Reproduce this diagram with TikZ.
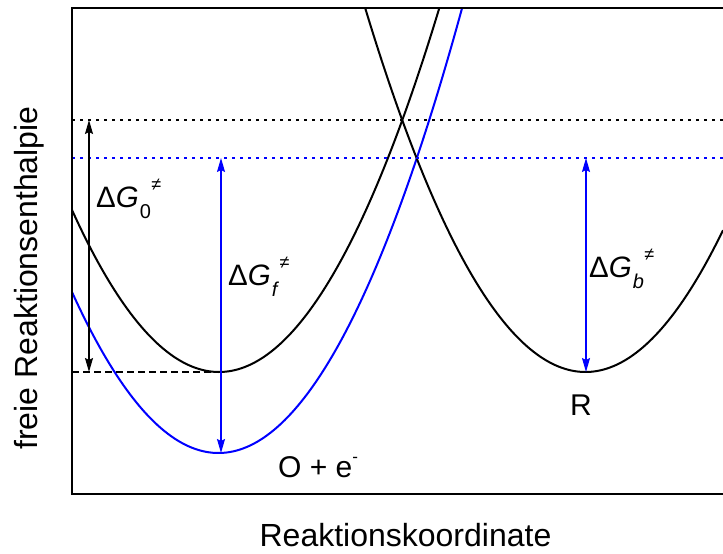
\documentclass[tikz,border=0pt]{standalone}
\usepackage{fontspec}
\setmainfont{Liberation Sans}
\usetikzlibrary{arrows.meta}
\newcommand\dGlab[1]{Δ\textit{G}\kern1pt\raisebox{-0.4em}{\fontsize{20}{20}\selectfont #1}\kern0.5pt\raisebox{0.55em}{\fontsize{18}{18}\selectfont\textit{≠}}}
\begin{document}
\begin{tikzpicture}[x=1pt,y=-1pt,
  curve/.style={line width=2pt},
  frame/.style={line width=2pt},
  dotline/.style={line width=1.2pt, dash pattern=on 2.5pt off 5.5pt},
  dashline/.style={line width=1.2pt, dash pattern=on 7pt off 4pt},
  arr/.style={line width=1.5pt, {Stealth[length=14pt,width=8pt,inset=2pt]}-{Stealth[length=14pt,width=8pt,inset=2pt]}},
  lab/.style={font=\fontsize{30}{36}\selectfont, inner sep=0pt},
  axlab/.style={font=\fontsize{32}{38}\selectfont, inner sep=0pt},
  glab/.style={font=\fontsize{29.5}{34}\selectfont, inner sep=0pt, anchor=base west}]
\useasboundingbox (0,0) rectangle (723,554);
\definecolor{myblue}{RGB}{0,0,255}
% curves
\begin{scope}
\clip (72,8) rectangle (723,494);
\draw[curve] plot[domain=72:460, samples=120] (\x, {372-(0.0866*(\x-219))^2});
\draw[curve, myblue] plot[domain=72:480, samples=120] (\x, {453-(0.0866*(\x-218.5))^2});
\draw[curve] plot[domain=340:723, samples=120] (\x, {372-(0.0866*(\x-585.5))^2});
\end{scope}
% reference lines
\coordinate (dl) at (72,120); \coordinate (dr) at (723,120);
\coordinate (bl) at (72,158); \coordinate (br) at (723,158);
\coordinate (hl) at (72,372); \coordinate (hr) at (219,372);
\draw[dotline] (dl) -- (dr);
\draw[dotline, myblue] (bl) -- (br);
\draw[dashline] (hl) -- (hr);
% frame
\coordinate (f1) at (723,8); \coordinate (f2) at (72,8);
\coordinate (f3) at (72,494); \coordinate (f4) at (723,494);
\draw[frame] (f1) -- (f2) -- (f3) -- (f4);
% arrows
\coordinate (a0t) at (89,120); \coordinate (a0b) at (89,372);
\coordinate (aft) at (221,158); \coordinate (afb) at (221,453);
\coordinate (abt) at (586,158); \coordinate (abb) at (586,372);
\draw[arr] (a0b) -- (a0t);
\draw[arr, myblue] (afb) -- (aft);
\draw[arr, myblue] (abb) -- (abt);
% labels
\node[glab] (g0) at (96,207) {\dGlab{0}};
\node[glab] (gf) at (228,285) {\dGlab{\textit{f}}};
\node[glab] (gb) at (589,277) {\dGlab{\textit{b}}};
\node[lab, anchor=base west] (R) at (570,415) {R};
\node[lab, anchor=base west] (O) at (278,477) {O + e\raisebox{0.5em}{\fontsize{17}{17}\selectfont -}};
\node[axlab] (xl) at (405.5,535) {Reaktionskoordinate};
\node[axlab, rotate=90] (yl) at (29,278) {freie Reaktionsenthalpie};
\end{tikzpicture}
\end{document}
